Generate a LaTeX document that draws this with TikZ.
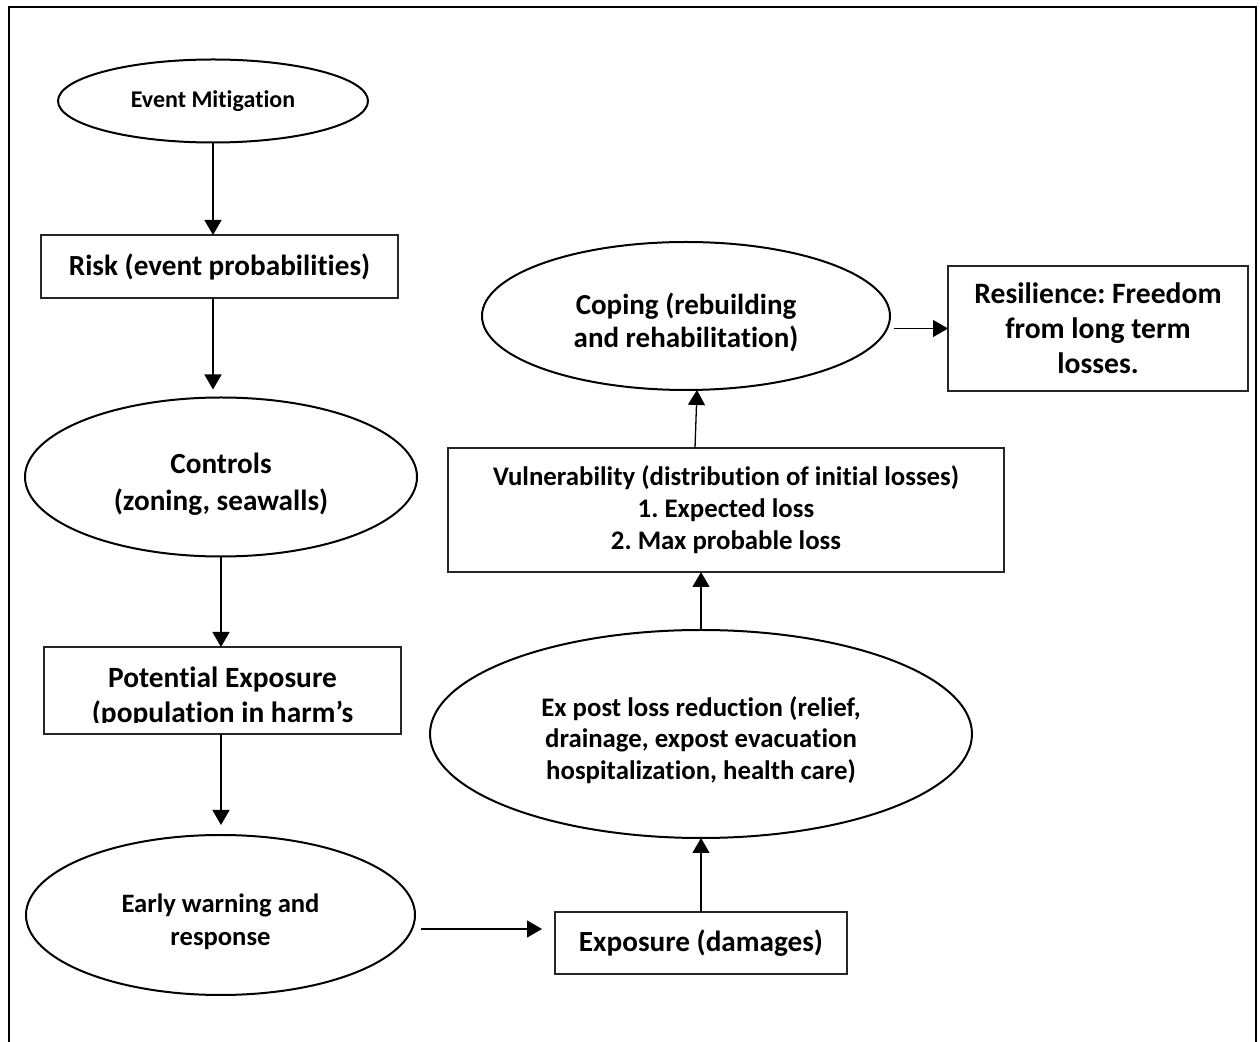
\documentclass[tikz,border=0pt]{standalone}
\usepackage{fontspec}
\setmainfont{Carlito}[Ligatures=NoCommon]
\frenchspacing
\usetikzlibrary{shapes.geometric,arrows.meta}

\begin{document}
\begin{tikzpicture}[
      x=0.5pt, y=-0.5pt,
      box/.style={
        rectangle,
        draw=black!85,
        line width=0.65pt,
        align=center,
        inner sep=0pt,
        outer sep=0pt
      },
      oval/.style={
        ellipse,
        draw=black,
        line width=1pt,
        align=center,
        inner sep=0pt,
        outer sep=0pt
      },
      link/.style={line width=0.65pt, -{Triangle[width=8.5pt,length=7.5pt]}}
    ]

    % Page and frame
    \useasboundingbox (0,0) rectangle (1260,1042);
    \draw[line width=1pt] (9,7) rectangle (1256,1080);

    % Left column
    \node[oval, minimum width=155pt, minimum height=41.5pt, font=\bfseries\fontsize{12}{14.5}\selectfont] (mitig) at (213,101) {Event Mitigation};
    \node[box, minimum width=178.5pt, minimum height=31.5pt, font=\bfseries\fontsize{14.6}{17.5}\selectfont] (risk) at (219.5,266.5) {Risk (event probabilities)};
    \node[oval, minimum width=196pt, minimum height=79.5pt, font=\bfseries\fontsize{14.6}{18.5}\selectfont] (controls) at (221,477) {\rule{0pt}{17pt}Controls\\(zoning, seawalls)};
    \begin{scope}
      \clip (0,600) rectangle (1260,723);
      \node[box, draw=none, minimum width=178.5pt, minimum height=43.5pt, font=\bfseries\fontsize{14.7}{17.5}\selectfont] (potexp) at (222.5,690.5) {\rule{0pt}{17pt}Potential Exposure\\(population in harm's};
    \end{scope}
    \draw[draw=black!85, line width=0.65pt] (potexp.south west) rectangle (potexp.north east);
    \node[oval, minimum width=194.5pt, minimum height=80pt, font=\bfseries\fontsize{13.3}{16.5}\selectfont] (early) at (220.5,915) {\rule{0pt}{16pt}Early warning and\\response};

    % Right column
    \node[box, minimum width=146pt, minimum height=31pt, font=\bfseries\fontsize{14.6}{17.5}\selectfont] (exposure) at (701,943) {Exposure (damages)};
    \node[oval, minimum width=271pt, minimum height=104pt, font=\bfseries\fontsize{13.4}{15.75}\selectfont] (expost) at (701,734) {\rule{0pt}{16pt}Ex post loss reduction (relief,\\drainage, expost evacuation\\hospitalization, health care)};
    \node[box, minimum width=278pt, minimum height=62pt, font=\bfseries\fontsize{13.4}{16}\selectfont] (vuln) at (726,510) {Vulnerability (distribution of initial losses)\\1. Expected loss\\2. Max probable loss};
    \node[oval, minimum width=204pt, minimum height=74pt, font=\bfseries\fontsize{14.5}{16.5}\selectfont] (coping) at (686,316) {\rule{0pt}{17pt}Coping (rebuilding\\and rehabilitation)};
    \node[box, minimum width=150pt, minimum height=62.5pt, font=\bfseries\fontsize{14.8}{17.5}\selectfont] (resil) at (1098,328.5) {Resilience: Freedom\\from long term\\losses.};

    % Arrows down the left column
    \draw[link] (mitig.south) -- (mitig.south |- risk.north);
    \draw[link, shorten >=4pt] (risk.south -| mitig.south) -- (controls.north -| mitig.south);
    \draw[link] (controls.south) -- (controls.south |- potexp.north);
    \draw[link, shorten >=5pt] (potexp.south -| controls.south) -- (early.north -| controls.south);

    % Across and up the right column
    \draw[link] ([shift={(6,14)}]early.east) -- ([shift={(-13,-14)}]exposure.west);
    \draw[link] (exposure.north -| expost.south) -- (expost.south);
    \draw[link] (expost.north) -- (expost.north |- vuln.south);
    \draw[link] ([xshift=-15.5pt]vuln.north) -- ([xshift=5.5pt]coping.south);
    \draw[link, shorten <=2pt] (coping.east |- resil.west) -- (resil.west);
\end{tikzpicture}
\end{document}
